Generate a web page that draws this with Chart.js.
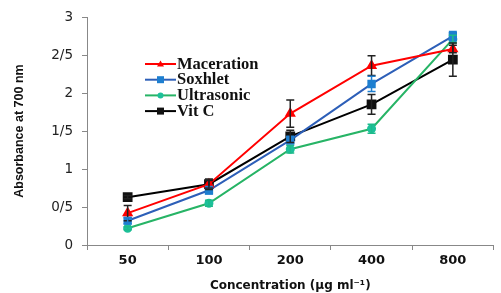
<!DOCTYPE html>
<html><head><meta charset="utf-8">
<script src="https://cdn.jsdelivr.net/npm/chart.js@4/dist/chart.umd.min.js"></script>
<style>html,body{margin:0;padding:0;background:#fff}#wrap{width:501px;height:293px;position:relative}</style>
</head><body><div id="wrap"><canvas id="c" width="501" height="293"></canvas></div>
<script>
const categories = ['50', '100', '200', '400', '800'];
const yTickLabels = ['0', '0/5', '1', '1/5', '2', '2/5', '3'];
const maceration = [0.42, 0.80, 1.73, 2.36, 2.58];
const macerationErr = [0.10, 0.05, 0.18, 0.13, 0.05];
const soxhlet = [0.32, 0.72, 1.38, 2.12, 2.75];
const soxhletErr = [0.04, 0.05, 0.05, 0.10, 0.06];
const ultrasonic = [0.22, 0.55, 1.26, 1.53, 2.71];
const ultrasonicErr = [0.02, 0.04, 0.05, 0.06, 0.05];
const vitC = [0.63, 0.80, 1.43, 1.85, 2.44];
const vitCErr = [0.02, 0.07, 0.08, 0.13, 0.22];

const errorBars = {
  id: 'errorBars',
  afterDatasetsDraw(chart) {
    const ctx = chart.ctx, ys = chart.scales.y;
    chart.data.datasets.forEach((ds, i) => {
      const meta = chart.getDatasetMeta(i);
      ctx.save();
      ctx.strokeStyle = ds.errColor; ctx.lineWidth = 1.5;
      meta.data.forEach((pt, j) => {
        const e = ds.err[j]; if (!e) return;
        const yt = ys.getPixelForValue(ds.data[j] + e), yb = ys.getPixelForValue(ds.data[j] - e);
        ctx.beginPath();
        ctx.moveTo(pt.x, yt); ctx.lineTo(pt.x, yb);
        ctx.moveTo(pt.x - 4, yt); ctx.lineTo(pt.x + 4, yt);
        ctx.moveTo(pt.x - 4, yb); ctx.lineTo(pt.x + 4, yb);
        ctx.stroke();
      });
      ctx.restore();
    });
  }
};

const customLegend = {
  id: 'customLegend',
  afterDraw(chart) {
    const ctx = chart.ctx;
    const x0 = 145, y0 = 64, dy = 15.7;
    chart.data.datasets.forEach((ds, i) => {
      const y = y0 + i * dy;
      ctx.save();
      ctx.strokeStyle = ds.borderColor; ctx.lineWidth = 2;
      ctx.beginPath(); ctx.moveTo(x0, y); ctx.lineTo(x0 + 31, y); ctx.stroke();
      ctx.fillStyle = ds.pointBackgroundColor;
      const cx = x0 + 15.5;
      if (ds.pointStyle === 'triangle') {
        ctx.beginPath(); ctx.moveTo(cx, y - 3.5); ctx.lineTo(cx + 3.5, y + 2.5); ctx.lineTo(cx - 3.5, y + 2.5); ctx.closePath(); ctx.fill();
      } else if (ds.pointStyle === 'circle') {
        ctx.beginPath(); ctx.arc(cx, y, 3, 0, Math.PI * 2); ctx.fill();
      } else {
        const s = 3.5; ctx.fillRect(cx - s, y - s, 2 * s, 2 * s);
      }
      ctx.fillStyle = '#111';
      ctx.font = 'bold 16.5px "Liberation Serif", serif';
      ctx.textBaseline = 'middle';
      ctx.fillText(ds.label, x0 + 32, y + 0.5);
      ctx.restore();
    });
  }
};

new Chart(document.getElementById('c'), {
  type: 'line',
  data: {
    labels: categories,
    datasets: [
      { label: 'Maceration', data: maceration, err: macerationErr, errColor: '#222', borderColor: '#ff0000', backgroundColor: '#ff0000', pointBackgroundColor: '#ff0000', pointBorderColor: '#ff0000', pointStyle: 'triangle', pointRadius: 4.5, borderWidth: 2 },
      { label: 'Soxhlet', data: soxhlet, err: soxhletErr, errColor: '#1e7fd0', borderColor: '#2d5fb8', backgroundColor: '#1e7fd0', pointBackgroundColor: '#1e7fd0', pointBorderColor: '#1e7fd0', pointStyle: 'rect', pointRadius: 4.5, borderWidth: 2 },
      { label: 'Ultrasonic', data: ultrasonic, err: ultrasonicErr, errColor: '#1dbb8a', borderColor: '#27b466', backgroundColor: '#1dc09a', pointBackgroundColor: '#1dc09a', pointBorderColor: '#1dc09a', pointStyle: 'circle', pointRadius: 3.5, borderWidth: 2 },
      { label: 'Vit C', data: vitC, err: vitCErr, errColor: '#222', borderColor: '#000', backgroundColor: '#000', pointBackgroundColor: '#111', pointBorderColor: '#111', pointStyle: 'rect', pointRadius: 5.5, borderWidth: 2 }
    ]
  },
  options: {
    responsive: false, animation: false,
    layout: { padding: { top: 16, right: 0, left: 0, bottom: 0 } },
    plugins: { legend: { display: false }, tooltip: { enabled: false } },
    scales: {
      x: {
        offset: true,
        grid: { display: true, drawOnChartArea: false, drawTicks: true, tickLength: 5, color: '#888', offset: true },
        border: { color: '#888', width: 1 },
        ticks: { color: '#111', font: { family: '"DejaVu Sans", sans-serif', size: 13, weight: 'bold' }, padding: 3, maxRotation: 0 },
        title: { display: true, text: 'Concentration (μg ml⁻¹)', color: '#111', font: { family: '"DejaVu Sans", sans-serif', size: 12, weight: 'bold' }, padding: { top: 4, bottom: 0 } },
        afterFit(s) { s.height = 48; }
      },
      y: {
        min: 0, max: 3,
        grid: { display: true, drawOnChartArea: false, drawTicks: true, tickLength: 5, color: '#888' },
        border: { color: '#888', width: 1 },
        ticks: { stepSize: 0.5, color: '#222', font: { family: '"DejaVu Sans", sans-serif', size: 13.5 }, padding: 9,
          callback: (v) => yTickLabels[Math.round(v * 2)] },
        title: { display: true, text: 'Absorbance at 700 nm', color: '#111', font: { family: '"Liberation Sans Narrow", "Liberation Sans", Arial, sans-serif', size: 12.5, weight: 'bold' }, padding: { top: 12, bottom: 4 } },
        afterFit(s) { s.width = 87; }
      }
    }
  },
  plugins: [errorBars, customLegend]
});
</script></body></html>
